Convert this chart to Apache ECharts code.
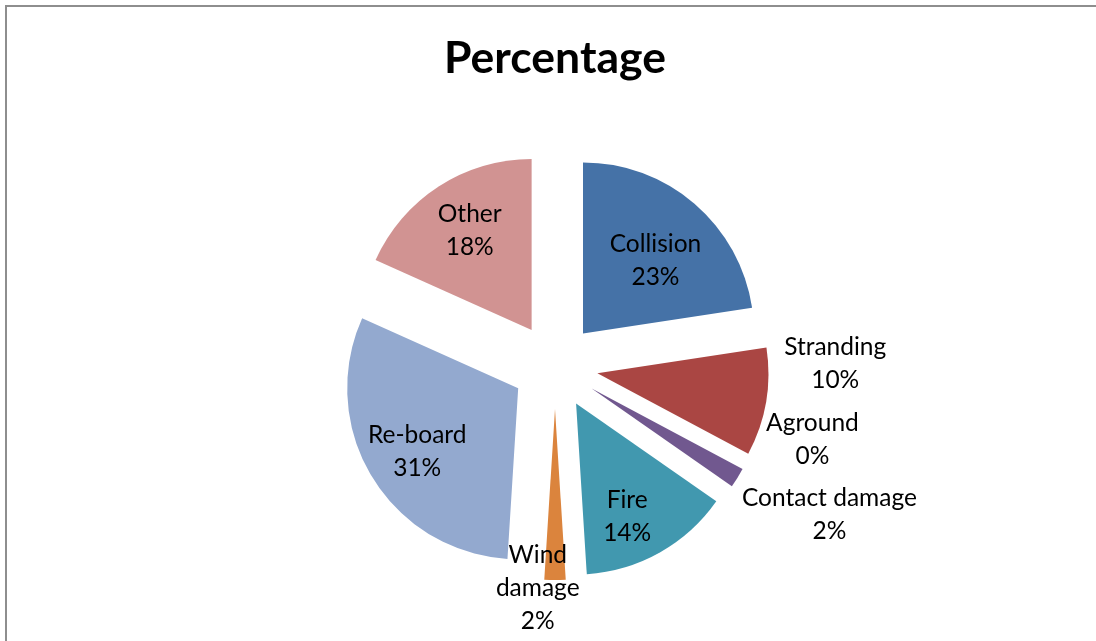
<!DOCTYPE html>
<html>
<head>
<meta charset="utf-8">
<script src="https://cdn.jsdelivr.net/npm/echarts@6/dist/echarts.min.js"></script>
<style>
html,body{margin:0;padding:0;background:#fff;}
#chart{width:1096px;height:641px;}
</style>
</head>
<body>
<div id="chart"></div>
<script>
// ---- data ----
var categories = ['Collision', 'Stranding', 'Aground', 'Contact damage', 'Fire', 'Wind damage', 'Re-board', 'Other'];
var values = [22.6, 10.2, 0, 1.9, 14.3, 2.0, 30.7, 18.3];
var labelNames = ['Collision', 'Stranding', 'Aground', 'Contact damage', 'Fire', 'Wind\ndamage', 'Re-board', 'Other'];
var chartTitle = 'Percentage';

// ---- styles ----
var colors = ['#4572A7', '#AA4643', '#89A54E', '#71588F', '#4198AF', '#DB843D', '#93A9CF', '#D19392'];
var CX = 555, CY = 366, R = 171, EXPLODE = 43;
// label placement: [distance from slice tip (px), angle offset from slice mid (deg)]
var labelPlacement = [[103, 4], [238, -12], [226, -14.3], [269, -3.6], [124, 5], [180, 5.5], [119, -0.8], [117, 1]];

var total = values.reduce(function (a, b) { return a + b; }, 0);
var midAngles = [];
(function () {
  var acc = 0;
  for (var i = 0; i < values.length; i++) {
    var a0 = acc / total * 360;
    acc += values[i];
    var a1 = acc / total * 360;
    midAngles.push((a0 + a1) / 2);
  }
})();

var chart = echarts.init(document.getElementById('chart'));
var sliceData = categories.map(function (c, i) {
  return { name: c, value: values[i], selected: true, itemStyle: { color: colors[i] } };
});
var labelData = categories.map(function (c, i) {
  return { name: c, value: values[i] };
});

chart.setOption({
  animation: false,
  title: {
    text: chartTitle,
    left: CX - 5,
    textAlign: 'center',
    top: 31,
    textStyle: { fontFamily: 'Lato', fontWeight: 'bold', fontSize: 44.5, color: '#000' }
  },
  graphic: [{
    type: 'rect',
    shape: { x: 6, y: 6, width: 2000, height: 2000 },
    style: { fill: 'none', stroke: '#8e8e8e', lineWidth: 2 },
    silent: true
  }],
  series: [{
    type: 'pie',
    center: [CX, CY],
    radius: R,
    startAngle: 90,
    clockwise: true,
    selectedMode: 'multiple',
    selectedOffset: EXPLODE,
    avoidLabelOverlap: false,
    stillShowZeroSum: true,
    emphasis: { disabled: true },
    itemStyle: { borderWidth: 0 },
    label: { show: false },
    labelLine: { show: false },
    data: sliceData
  }, {
    type: 'pie',
    center: [CX, CY],
    radius: R,
    startAngle: 90,
    clockwise: true,
    silent: true,
    avoidLabelOverlap: false,
    emphasis: { disabled: true },
    itemStyle: { color: 'rgba(0,0,0,0)', borderWidth: 0 },
    labelLine: { show: false },
    label: {
      show: true,
      position: 'inside',
      fontFamily: 'Lato',
      fontSize: 24.5,
      lineHeight: 33,
      color: '#000',
      align: 'center',
      formatter: function (p) {
        return labelNames[p.dataIndex] + '\n' + Math.round(p.percent) + '%';
      }
    },
    labelLayout: function (p) {
      var i = p.dataIndex;
      var m = midAngles[i] * Math.PI / 180;
      var tipX = CX + EXPLODE * Math.sin(m);
      var tipY = CY - EXPLODE * Math.cos(m);
      var a = (midAngles[i] + labelPlacement[i][1]) * Math.PI / 180;
      var d = labelPlacement[i][0];
      return {
        x: tipX + d * Math.sin(a),
        y: tipY - d * Math.cos(a),
        align: 'center',
        verticalAlign: 'middle'
      };
    },
    data: labelData
  }]
});
</script>
</body>
</html>
